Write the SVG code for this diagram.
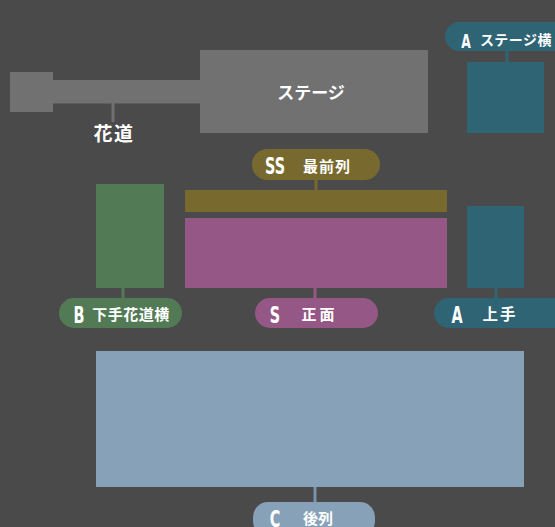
<svg xmlns="http://www.w3.org/2000/svg" width="555" height="527" viewBox="0 0 555 527">
<defs>
<style>
.jp{font-family:"Noto Sans CJK JP","Noto Sans",sans-serif;font-weight:bold;fill:#ffffff;}
.ltr{font-family:"DejaVu Sans","Liberation Sans",sans-serif;font-weight:bold;fill:#ffffff;}
.line{stroke-width:3;fill:none;}
</style>
</defs>
<rect x="0" y="0" width="555" height="527" fill="#4a4a4a"/>

<g id="stage">
<rect x="10" y="72" width="43" height="40" fill="#717171"/>
<rect x="52" y="80" width="150" height="23.5" fill="#717171"/>
<rect x="200" y="50" width="228" height="83" fill="#717171"/>
<text class="jp" x="311" y="99" font-size="17" text-anchor="middle">ステージ</text>
</g>

<g id="hanamichi-label">
<text class="jp" x="114" y="141" font-size="19" text-anchor="middle" letter-spacing="1.5">花道</text>
</g>

<g id="connectors">
<line class="line" x1="113" y1="103" x2="113" y2="122" stroke="#717171"/>
<line class="line" x1="507" y1="50" x2="507" y2="63" stroke="#2f6474"/>
<line class="line" x1="316" y1="179" x2="316" y2="191" stroke="#786a2e"/>
<line class="line" x1="315" y1="287" x2="315" y2="299" stroke="#955785"/>
<line class="line" x1="123" y1="287" x2="123" y2="299" stroke="#527a55"/>
<line class="line" x1="496" y1="287" x2="496" y2="299" stroke="#2f6474"/>
<line x1="315" y1="467" x2="315" y2="503" stroke="#7993aa" stroke-width="3"/>
</g>

<g id="A-stage-side">
<rect x="467" y="62" width="77" height="71" fill="#2f6474"/>
<rect x="445" y="22" width="140" height="29" rx="14.5" fill="#2f6474"/>
<text class="ltr" x="0" y="0" font-size="19" text-anchor="middle" transform="translate(466,48) scale(0.65,1)">A</text>
<text class="jp" x="516" y="45" font-size="14" text-anchor="middle" letter-spacing="0.5">ステージ横</text>
</g>

<g id="SS-front-row">
<rect x="185" y="190" width="262" height="22" fill="#786a2e"/>
<rect x="252" y="149" width="128" height="31" rx="15.5" fill="#786a2e"/>
<text class="ltr" x="0" y="0" font-size="22.5" text-anchor="middle" transform="translate(275,174) scale(0.64,1)">SS</text>
<text class="jp" x="327" y="172" font-size="15" text-anchor="middle" letter-spacing="1">最前列</text>
</g>

<g id="S-center">
<rect x="185" y="218" width="262" height="70" fill="#955785"/>
<rect x="255" y="298" width="123" height="30" rx="15" fill="#955785"/>
<text class="ltr" x="0" y="0" font-size="22.5" text-anchor="middle" transform="translate(275,323) scale(0.64,1)">S</text>
<text class="jp" x="319.5" y="320" font-size="15" text-anchor="middle" letter-spacing="3">正面</text>
</g>

<g id="B-shimote">
<rect x="96" y="184" width="68" height="104" fill="#527a55"/>
<rect x="59" y="298" width="123" height="30" rx="15" fill="#527a55"/>
<text class="ltr" x="0" y="0" font-size="22.5" text-anchor="middle" transform="translate(79,323) scale(0.64,1)">B</text>
<text class="jp" x="131" y="320" font-size="15" text-anchor="middle" letter-spacing="0.5">下手花道横</text>
</g>

<g id="A-kamite">
<rect x="467" y="206" width="57" height="82" fill="#2f6474"/>
<rect x="434" y="298" width="150" height="30" rx="15" fill="#2f6474"/>
<text class="ltr" x="0" y="0" font-size="22.5" text-anchor="middle" transform="translate(457,323) scale(0.64,1)">A</text>
<text class="jp" x="500" y="320" font-size="15.5" text-anchor="middle" letter-spacing="2">上手</text>
</g>

<g id="C-rear">
<rect x="96" y="351" width="428" height="136" fill="#87a1b8"/>
<rect x="253" y="502" width="122" height="34" rx="15" fill="#87a1b8"/>
<text class="ltr" x="0" y="0" font-size="22.5" text-anchor="middle" transform="translate(275,527) scale(0.64,1)">C</text>
<text class="jp" x="318" y="524" font-size="15" text-anchor="middle">後列</text>
</g>
</svg>
